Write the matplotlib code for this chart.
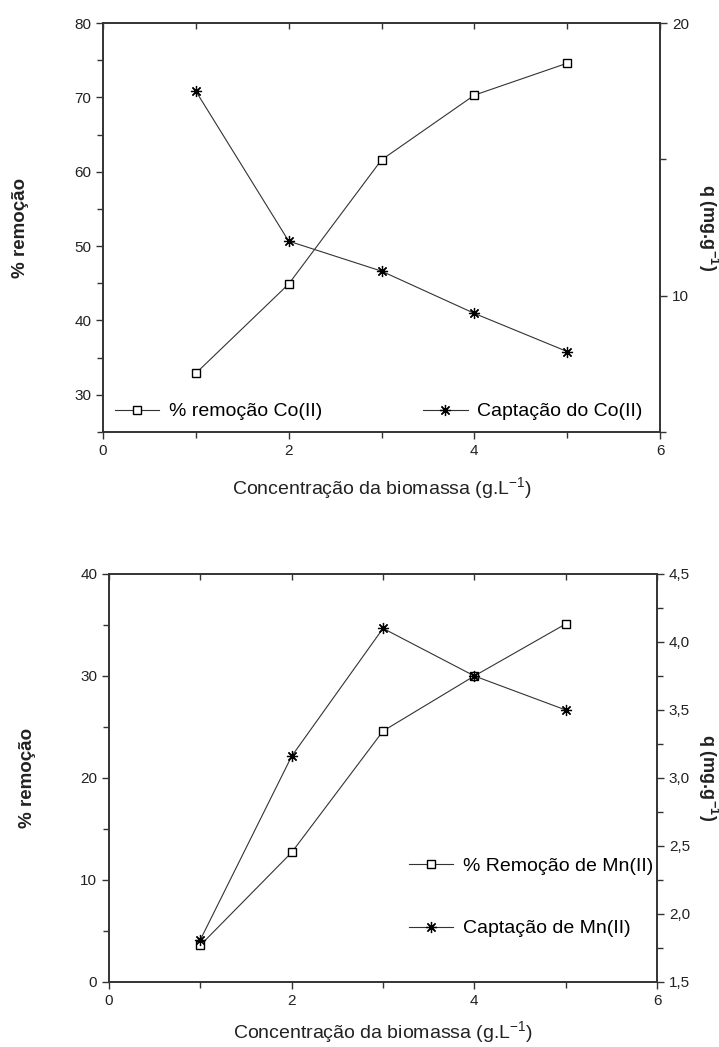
import matplotlib
matplotlib.use('Agg')
import matplotlib.pyplot as plt
from matplotlib.ticker import MultipleLocator

plt.rcParams['font.family'] = ['Liberation Sans', 'DejaVu Sans']
plt.rcParams['mathtext.default'] = 'regular'

# biomass concentration (g/L)
conc = [1, 2, 3, 4, 5]

# Co(II)
co_remocao = [32.9, 44.9, 61.6, 70.3, 74.6]
co_captacao = [17.5, 12.0, 10.9, 9.35, 7.95]

# Mn(II)
mn_remocao = [3.6, 12.7, 24.6, 30.0, 35.1]
mn_captacao = [1.81, 3.16, 4.1, 3.75, 3.5]

xlabel = 'Concentração da biomassa (g.L$^{-1}$)'
ylabel_left = '% remoção'
ylabel_right = 'q (mg.g$^{-1}$)'

line_kw = dict(color='#333333', lw=0.8)
sq_kw = dict(marker='s', ms=6, mfc='white', mec='black', mew=1.0)
st_kw = dict(marker=(8, 2, 0), ms=8, mec='black', mew=0.9)
txt_color = '#222222'


def style_axes(ax, ax2, xl_y, yl_x, yr_x):
    for a in (ax, ax2):
        for s in a.spines.values():
            s.set_linewidth(1.2)
            s.set_color('#333333')
    ax.set_xlim(0, 6)
    ax.xaxis.set_major_locator(MultipleLocator(2))
    ax.xaxis.set_minor_locator(MultipleLocator(1))
    for a in (ax, ax2):
        a.tick_params(which='both', direction='out', labelsize=11, colors='#333333',
                      labelcolor=txt_color)
        a.tick_params(which='major', length=5, width=1)
        a.tick_params(which='minor', length=4, width=1)
    # inward ticks on top spine
    top = ax.secondary_xaxis('top')
    top.xaxis.set_major_locator(MultipleLocator(1))
    top.tick_params(direction='in', length=4, width=1, labeltop=False, colors='#333333')
    top.spines['top'].set_visible(False)
    ax.set_xlabel(xlabel, fontsize=14, color=txt_color, va='center')
    ax.xaxis.set_label_coords(0.5, xl_y)
    ax.set_ylabel(ylabel_left, fontsize=13.5, fontweight='bold', color=txt_color,
                  va='center')
    ax.yaxis.set_label_coords(yl_x, 0.5)
    ax2.set_ylabel(ylabel_right, fontsize=13, fontweight='bold', color=txt_color,
                   rotation=270, va='center', ha='center')
    ax2.yaxis.set_label_coords(yr_x, 0.5)


fig = plt.figure(figsize=(7.19, 10.47), dpi=100)

# ---- top panel: Co(II)
ax = fig.add_axes([0.1433, 0.5874, 0.7747, 0.3906])
ax2 = ax.twinx()
l1, = ax.plot(conc, co_remocao, label='% remoção Co(II)', **line_kw, **sq_kw)
l2, = ax2.plot(conc, co_captacao, label='Captação do Co(II)', **line_kw, **st_kw)
ax.set_ylim(25, 80)
ax.yaxis.set_major_locator(MultipleLocator(10))
ax.yaxis.set_minor_locator(MultipleLocator(5))
ax2.set_ylim(5, 20)
ax2.yaxis.set_major_locator(MultipleLocator(10))
ax2.yaxis.set_minor_locator(MultipleLocator(5))
style_axes(ax, ax2, -0.137, -0.149, 1.087)
leg1 = ax2.legend(handles=[l1], loc='lower left', frameon=False, fontsize=14,
                  handlelength=2.3, handletextpad=0.5, borderaxespad=0.2,
                  bbox_to_anchor=(0.0, 0.0))
ax2.add_artist(leg1)
ax2.legend(handles=[l2], loc='lower right', frameon=False, fontsize=14,
           handlelength=2.3, handletextpad=0.5, borderaxespad=0.2,
           bbox_to_anchor=(0.99, 0.0))

# ---- bottom panel: Mn(II)
bx = fig.add_axes([0.1516, 0.0621, 0.7622, 0.3897])
bx2 = bx.twinx()
m1, = bx.plot(conc, mn_remocao, label='% Remoção de Mn(II)', **line_kw, **sq_kw)
m2, = bx2.plot(conc, mn_captacao, label='Captação de Mn(II)', **line_kw, **st_kw)
bx.set_ylim(0, 40)
bx.yaxis.set_major_locator(MultipleLocator(10))
bx.yaxis.set_minor_locator(MultipleLocator(5))
bx2.set_ylim(1.5, 4.5)
bx2.yaxis.set_major_locator(MultipleLocator(0.5))
bx2.yaxis.set_minor_locator(MultipleLocator(0.25))
bx2.yaxis.set_major_formatter(plt.FuncFormatter(lambda v, p: f'{v:.1f}'.replace('.', ',')))
style_axes(bx, bx2, -0.122, -0.148, 1.094)
bx2.legend(handles=[m1, m2], loc='center left', frameon=False, fontsize=14,
           handlelength=2.3, handletextpad=0.5, labelspacing=2.3,
           bbox_to_anchor=(0.515, 0.207))

fig.savefig('out.png', dpi=100)
